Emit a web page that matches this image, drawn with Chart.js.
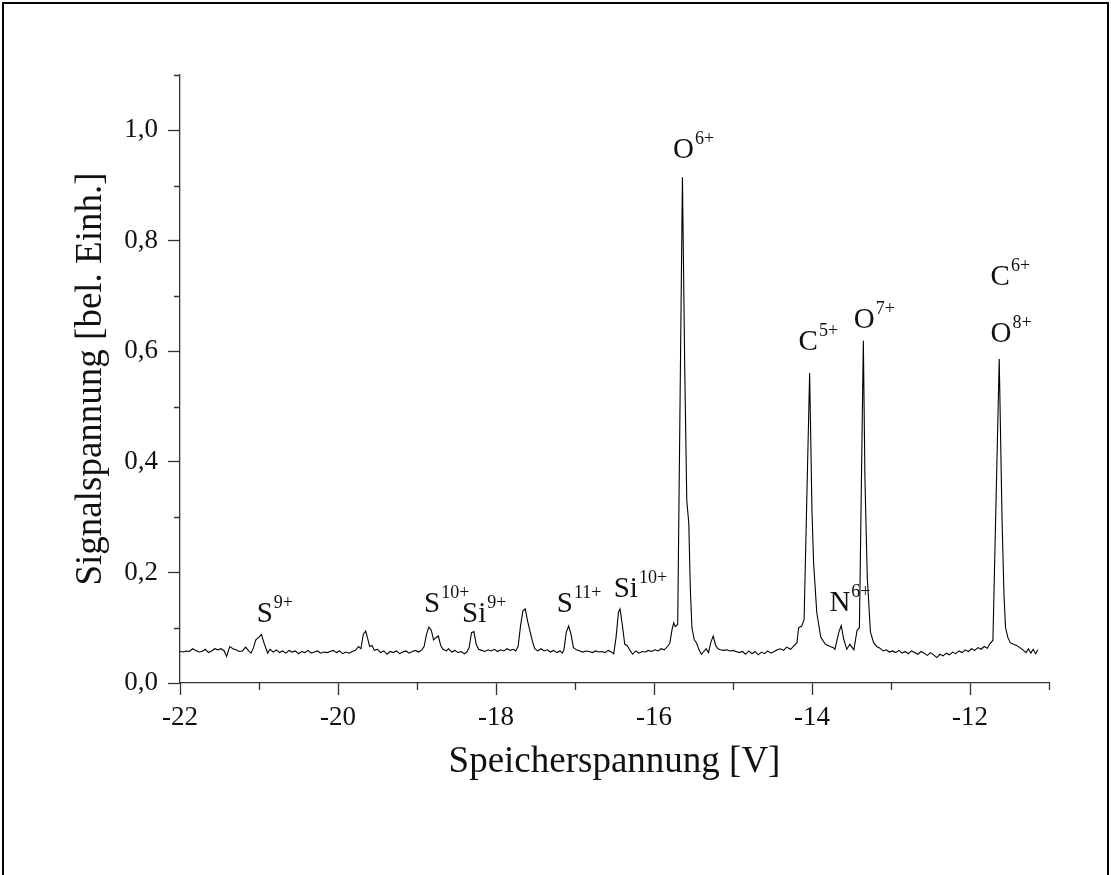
<!DOCTYPE html>
<html>
<head>
<meta charset="utf-8">
<script src="https://cdn.jsdelivr.net/npm/chart.js@4.4.1/dist/chart.umd.min.js"></script>
<style>
  html, body { margin: 0; padding: 0; background: #fff; }
  #wrap { width: 1111px; height: 875px; position: relative; }
</style>
</head>
<body>
<div id="wrap"><canvas id="spektrum" width="1111" height="875"></canvas></div>
<script>
// Speicherspannung [V] / Signalspannung [bel. Einh.]
const spektrum = [
  [-22.00,0.057],[-21.96,0.056],[-21.92,0.058],[-21.88,0.057],[-21.84,0.062],[-21.80,0.059],
  [-21.76,0.056],[-21.72,0.057],[-21.68,0.061],[-21.64,0.055],[-21.60,0.058],[-21.56,0.062],
  [-21.52,0.060],[-21.48,0.062],[-21.44,0.058],[-21.41,0.048],[-21.37,0.066],[-21.33,0.062],
  [-21.29,0.060],[-21.25,0.057],[-21.21,0.058],[-21.17,0.065],[-21.13,0.058],[-21.10,0.054],
  [-21.07,0.064],[-21.04,0.078],[-21.00,0.083],[-20.97,0.088],[-20.94,0.074],[-20.91,0.062],
  [-20.89,0.054],[-20.86,0.061],[-20.82,0.056],[-20.78,0.060],[-20.74,0.055],[-20.70,0.058],
  [-20.66,0.054],[-20.62,0.059],[-20.58,0.056],[-20.54,0.058],[-20.50,0.053],[-20.46,0.057],
  [-20.42,0.055],[-20.38,0.059],[-20.34,0.054],[-20.30,0.056],[-20.26,0.058],[-20.22,0.054],
  [-20.18,0.056],[-20.14,0.055],[-20.10,0.057],[-20.06,0.059],[-20.02,0.055],[-19.98,0.058],
  [-19.94,0.053],[-19.90,0.056],[-19.86,0.054],[-19.82,0.057],[-19.78,0.059],[-19.74,0.066],
  [-19.71,0.062],[-19.68,0.088],[-19.65,0.094],[-19.62,0.078],[-19.60,0.066],[-19.57,0.068],
  [-19.54,0.059],[-19.50,0.061],[-19.46,0.055],[-19.42,0.058],[-19.38,0.052],[-19.34,0.057],
  [-19.30,0.055],[-19.26,0.058],[-19.22,0.053],[-19.18,0.056],[-19.14,0.058],[-19.10,0.054],
  [-19.06,0.057],[-19.02,0.059],[-18.98,0.056],[-18.94,0.060],[-18.91,0.066],[-18.88,0.088],
  [-18.85,0.101],[-18.82,0.096],[-18.79,0.078],[-18.76,0.082],[-18.73,0.085],[-18.70,0.068],
  [-18.67,0.061],[-18.63,0.058],[-18.60,0.062],[-18.56,0.056],[-18.52,0.059],[-18.48,0.055],
  [-18.44,0.057],[-18.40,0.053],[-18.37,0.056],[-18.34,0.064],[-18.31,0.091],[-18.28,0.093],
  [-18.25,0.070],[-18.22,0.061],[-18.18,0.059],[-18.14,0.057],[-18.10,0.060],[-18.06,0.058],
  [-18.02,0.061],[-17.98,0.057],[-17.94,0.060],[-17.90,0.058],[-17.86,0.062],[-17.82,0.059],
  [-17.78,0.061],[-17.75,0.058],[-17.72,0.066],[-17.69,0.103],[-17.66,0.130],[-17.63,0.134],
  [-17.60,0.112],[-17.57,0.094],[-17.54,0.076],[-17.51,0.062],[-17.47,0.058],[-17.43,0.062],
  [-17.39,0.058],[-17.35,0.060],[-17.31,0.056],[-17.27,0.059],[-17.23,0.055],[-17.19,0.058],
  [-17.16,0.054],[-17.14,0.060],[-17.11,0.092],[-17.08,0.103],[-17.05,0.088],[-17.02,0.064],
  [-16.98,0.060],[-16.94,0.058],[-16.90,0.056],[-16.86,0.058],[-16.82,0.057],[-16.78,0.055],
  [-16.74,0.058],[-16.70,0.056],[-16.66,0.057],[-16.62,0.055],[-16.58,0.059],[-16.54,0.056],
  [-16.51,0.053],[-16.48,0.083],[-16.45,0.128],[-16.43,0.134],[-16.40,0.104],[-16.37,0.070],
  [-16.34,0.068],[-16.30,0.058],[-16.27,0.052],[-16.23,0.058],[-16.19,0.054],[-16.15,0.057],
  [-16.11,0.056],[-16.07,0.059],[-16.03,0.057],[-15.99,0.060],[-15.95,0.058],[-15.91,0.062],
  [-15.87,0.060],[-15.83,0.066],[-15.80,0.072],[-15.77,0.098],[-15.75,0.109],[-15.73,0.102],
  [-15.70,0.106],[-15.64,0.915],[-15.61,0.560],[-15.585,0.330],[-15.56,0.290],[-15.54,0.170],
  [-15.52,0.100],[-15.49,0.078],[-15.46,0.072],[-15.43,0.060],[-15.40,0.052],[-15.37,0.057],
  [-15.34,0.062],[-15.31,0.055],[-15.28,0.074],[-15.25,0.085],[-15.22,0.068],[-15.19,0.062],
  [-15.16,0.060],[-15.12,0.059],[-15.08,0.060],[-15.04,0.058],[-15.00,0.059],[-14.96,0.057],
  [-14.92,0.055],[-14.88,0.057],[-14.84,0.052],[-14.80,0.058],[-14.76,0.053],[-14.72,0.057],
  [-14.68,0.051],[-14.64,0.056],[-14.60,0.053],[-14.56,0.058],[-14.52,0.054],[-14.48,0.057],
  [-14.44,0.060],[-14.40,0.062],[-14.36,0.059],[-14.32,0.065],[-14.27,0.061],[-14.23,0.067],
  [-14.19,0.073],[-14.17,0.100],[-14.13,0.103],[-14.10,0.115],[-14.03,0.561],[-14.00,0.310],
  [-13.98,0.218],[-13.94,0.128],[-13.89,0.083],[-13.83,0.070],[-13.77,0.066],[-13.73,0.064],
  [-13.71,0.061],[-13.66,0.092],[-13.63,0.104],[-13.60,0.080],[-13.56,0.061],[-13.52,0.070],
  [-13.47,0.060],[-13.43,0.095],[-13.40,0.100],[-13.35,0.619],[-13.33,0.370],[-13.30,0.190],
  [-13.26,0.092],[-13.22,0.073],[-13.18,0.066],[-13.14,0.063],[-13.10,0.058],[-13.06,0.060],
  [-13.02,0.056],[-12.98,0.058],[-12.94,0.055],[-12.90,0.059],[-12.86,0.054],[-12.82,0.057],
  [-12.78,0.053],[-12.74,0.058],[-12.70,0.055],[-12.66,0.052],[-12.62,0.057],[-12.58,0.054],
  [-12.54,0.050],[-12.50,0.055],[-12.46,0.051],[-12.42,0.046],[-12.38,0.052],[-12.34,0.049],
  [-12.30,0.054],[-12.26,0.051],[-12.22,0.056],[-12.18,0.053],[-12.14,0.058],[-12.10,0.055],
  [-12.06,0.060],[-12.02,0.057],[-11.98,0.062],[-11.94,0.059],[-11.90,0.064],[-11.86,0.061],
  [-11.82,0.066],[-11.78,0.063],[-11.75,0.071],[-11.71,0.077],[-11.63,0.586],[-11.595,0.300],
  [-11.57,0.160],[-11.55,0.100],[-11.52,0.082],[-11.49,0.073],[-11.45,0.070],[-11.41,0.068],
  [-11.37,0.064],[-11.33,0.060],[-11.29,0.055],[-11.26,0.062],[-11.23,0.054],[-11.20,0.061],
  [-11.17,0.053],[-11.14,0.060]
];

// peak labels: element, charge, left edge [V], baseline [bel. Einh.]
const peakNames   = ['S', 'S', 'Si', 'S', 'Si', 'O', 'C', 'N', 'O', 'C', 'O'];
const peakCharges = ['9+', '10+', '9+', '11+', '10+', '6+', '5+', '6+', '7+', '6+', '8+'];
const peakLabelX  = [-21.03, -18.91, -18.43, -17.23, -16.51, -15.76, -14.17, -13.78, -13.47, -11.74, -11.74];
const peakLabelY  = [0.111, 0.129, 0.111, 0.129, 0.155, 0.950, 0.602, 0.131, 0.643, 0.720, 0.617];

const xMajorTicks = [-22, -20, -18, -16, -14, -12];
const xMinorTicks = [-21, -19, -17, -15, -13, -11];
const yMajorTicks = [0, 0.2, 0.4, 0.6, 0.8, 1.0];
const yMinorTicks = [0.1, 0.3, 0.5, 0.7, 0.9, 1.1];

const serif = '"Liberation Serif", "Times New Roman", serif';
const axisColor = '#333';

const extras = {
  id: 'extras',
  afterDraw(chart) {
    const ctx = chart.ctx;
    const xs = chart.scales.x, ys = chart.scales.y;
    const area = chart.chartArea;
    ctx.save();
    // minor ticks
    ctx.strokeStyle = axisColor;
    ctx.lineWidth = 1.3;
    ctx.beginPath();
    xMinorTicks.forEach(v => {
      const px = Math.round(xs.getPixelForValue(v)) + 0.5;
      ctx.moveTo(px, area.bottom);
      ctx.lineTo(px, area.bottom + 7);
    });
    yMinorTicks.forEach(v => {
      const py = Math.round(ys.getPixelForValue(v)) + 0.5;
      ctx.moveTo(area.left, py);
      ctx.lineTo(area.left - 6, py);
    });
    ctx.stroke();

    // peak labels with superscript charge
    ctx.fillStyle = '#111';
    ctx.textAlign = 'left';
    ctx.textBaseline = 'alphabetic';
    peakNames.forEach((name, i) => {
      const px = xs.getPixelForValue(peakLabelX[i]);
      const py = ys.getPixelForValue(peakLabelY[i]);
      ctx.font = '29px ' + serif;
      ctx.fillText(name, px, py);
      const w = ctx.measureText(name).width;
      ctx.font = '18px ' + serif;
      ctx.fillText(peakCharges[i], px + w + 1, py - 14);
    });

    // frame around the figure
    ctx.strokeStyle = '#000';
    ctx.lineWidth = 2;
    ctx.beginPath();
    ctx.moveTo(3, 875);
    ctx.lineTo(3, 3);
    ctx.lineTo(1108, 3);
    ctx.lineTo(1108, 875);
    ctx.stroke();
    ctx.restore();
  }
};

new Chart(document.getElementById('spektrum'), {
  type: 'scatter',
  data: {
    datasets: [{
      data: spektrum.map(p => ({ x: p[0], y: p[1] })),
      showLine: true,
      borderColor: '#000',
      borderWidth: 1.1,
      pointRadius: 0,
      tension: 0
    }]
  },
  options: {
    responsive: false,
    animation: false,
    devicePixelRatio: 1,
    layout: { padding: { left: 0, top: 75, right: 62, bottom: 0 } },
    plugins: { legend: { display: false }, tooltip: { enabled: false } },
    scales: {
      x: {
        type: 'linear',
        min: -22,
        max: -11,
        afterFit: s => { s.height = 192; },
        afterBuildTicks: s => { s.ticks = xMajorTicks.map(v => ({ value: v })); },
        grid: { drawOnChartArea: false, tickLength: 12, tickColor: axisColor, tickWidth: 1.3 },
        border: { display: true, color: axisColor, width: 1.3 },
        ticks: {
          padding: 7,
          color: '#111',
          font: { family: serif, size: 27 },
          callback: v => String(v)
        },
        title: {
          display: true,
          text: 'Speicherspannung [V]',
          color: '#111',
          font: { family: serif, size: 37 },
          padding: { top: 0, bottom: 91 }
        }
      },
      y: {
        type: 'linear',
        min: 0,
        max: 1.1,
        afterFit: s => { s.width = 180; },
        afterBuildTicks: s => { s.ticks = yMajorTicks.map(v => ({ value: v })); },
        grid: { drawOnChartArea: false, tickLength: 12, tickColor: axisColor, tickWidth: 1.3 },
        border: { display: true, color: axisColor, width: 1.3 },
        ticks: {
          padding: 10,
          color: '#111',
          font: { family: serif, size: 27 },
          callback: v => v.toFixed(1).replace('.', ',')
        },
        title: {
          display: true,
          text: 'Signalspannung [bel. Einh.]',
          color: '#111',
          font: { family: serif, size: 37 },
          padding: { top: 69, bottom: 0 }
        }
      }
    }
  },
  plugins: [extras]
});
</script>
</body>
</html>
